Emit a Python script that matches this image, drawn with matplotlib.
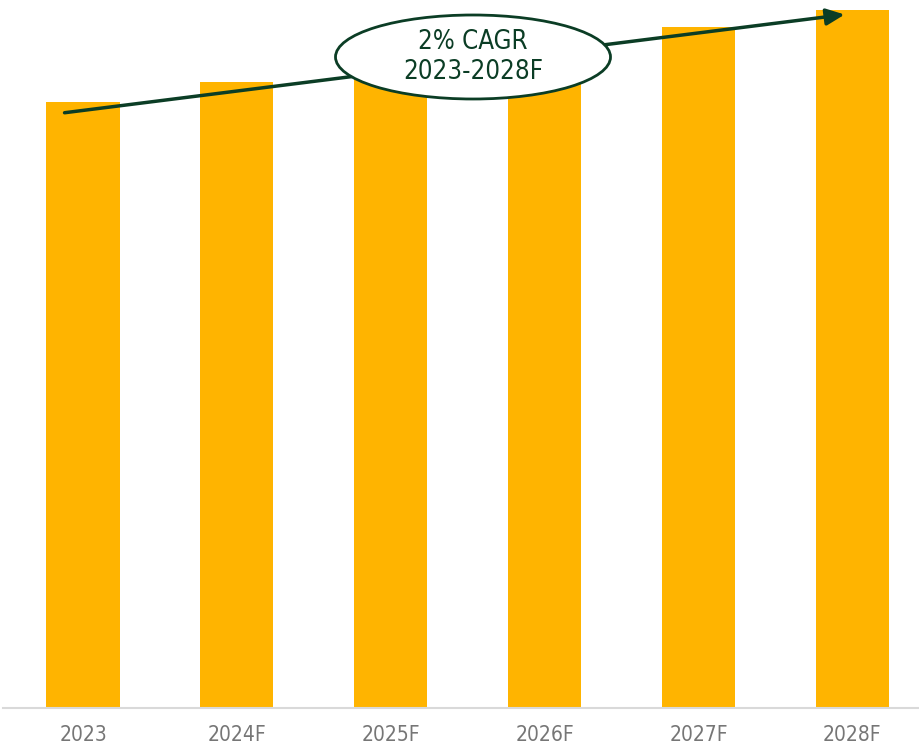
import matplotlib
matplotlib.use("Agg")
import matplotlib.pyplot as plt
from matplotlib.patches import Ellipse

# Market index, 2023 = 100
years = ["2023", "2024F", "2025F", "2026F", "2027F", "2028F"]
values = [100.0, 103.3, 106.3, 109.4, 112.4, 115.2]
cagr_label = "2% CAGR\n2023-2028F"

bar_color = "#FFB400"
dark_green = "#0B3D25"

fig = plt.figure(figsize=(9.2, 7.51), dpi=100)
ax = fig.add_axes([3 / 920, 43 / 751, 917 / 920, 708 / 751])

x = list(range(len(years)))
ax.bar(x, values, width=0.475, color=bar_color, zorder=2)

ax.set_xlim(-0.52, 5.44)
ax.set_ylim(0, 116.8)
ax.set_xticks(x)
ax.set_xticklabels(years, fontsize=15, color="#767676",
                   family="DejaVu Sans", fontstretch="condensed")
ax.tick_params(axis="x", length=0, pad=12)
ax.set_yticks([])
for side in ["top", "right", "left"]:
    ax.spines[side].set_visible(False)
ax.spines["bottom"].set_color("#d9d9d9")
ax.spines["bottom"].set_linewidth(1.5)

# growth arrow from first to last bar
ax.annotate("", xy=(4.95, values[-1] - 0.8), xytext=(-0.12, values[0] - 1.8),
            arrowprops=dict(arrowstyle="-|>,head_length=1.1,head_width=0.5",
                            color=dark_green, lw=2.5, shrinkA=0, shrinkB=0),
            zorder=5)

# CAGR bubble
ell = Ellipse((473 / 920, 1 - 57 / 751), 275 / 920, 84 / 751,
              transform=fig.transFigure, facecolor="white",
              edgecolor=dark_green, lw=2, zorder=6)
fig.patches.append(ell)
fig.text(473 / 920, 1 - 57 / 751, cagr_label, ha="center", va="center",
         fontsize=18.5, color=dark_green, linespacing=1.2,
         family="DejaVu Sans", fontstretch="condensed", zorder=7)

fig.savefig("out.png", dpi=100)
